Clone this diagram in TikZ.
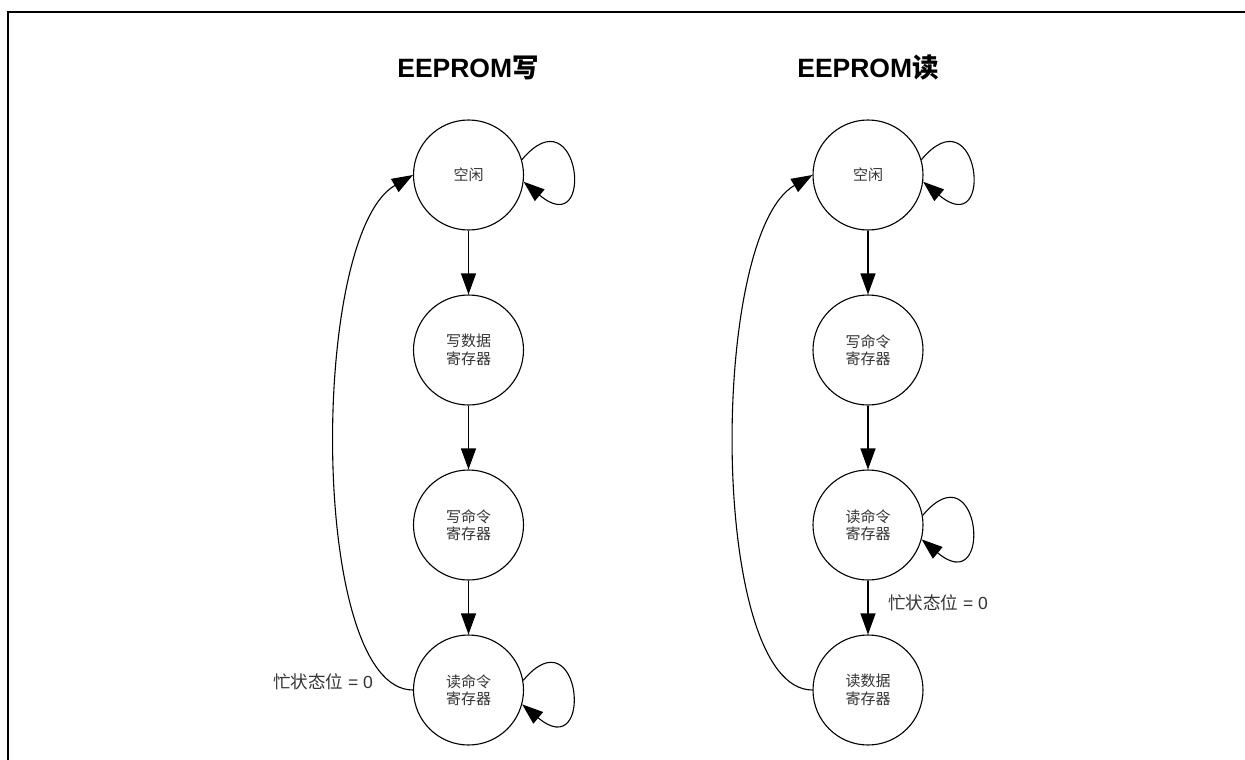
\documentclass[tikz,border=0pt]{standalone}
\usepackage{fontspec}
\setmainfont{Liberation Sans}
\newfontfamily\cjk{Noto Sans CJK SC}
\usetikzlibrary{arrows.meta}

\begin{document}
\begin{tikzpicture}[x=1pt,y=1pt,
  state/.style={circle, draw, line width=1.1pt, minimum size=110pt, inner sep=0pt,
    align=center, font=\fontsize{15}{17.5}\selectfont\cjk, text=black!80},
  arr/.style={line width=1.1pt, -{Triangle[length=21pt,width=15pt]}},
  title/.style={font=\fontsize{26.5}{30}\selectfont\bfseries},
  cond/.style={font=\fontsize{17.5}{20}\selectfont, text=black!80, anchor=west, inner sep=0pt}
]
\useasboundingbox (0,0) rectangle (1245,-760);

% frame
\draw[line width=1.6pt] (8,-760) -- (8,-12) -- (1245,-12);

% titles
\node[title] (tw) at (468,-68) {EEPROM{\cjk 写}};
\node[title] (tr) at (868,-68) {EEPROM{\cjk 读}};

% write sequence
\node[state] (w0) at (468.5,-175) {空闲};
\node[state] (w1) at (468.5,-350) {写数据\\寄存器};
\node[state] (w2) at (468.5,-525) {写命令\\寄存器};
\node[state] (w3) at (468.5,-690) {读命令\\寄存器};

% read sequence
\node[state] (r0) at (868,-175) {空闲};
\node[state] (r1) at (868,-350) {写命令\\寄存器};
\node[state] (r2) at (868,-525) {读命令\\寄存器};
\node[state] (r3) at (868,-690) {读数据\\寄存器};

% straight transitions
\draw[arr] (w0.south) -- (w1.north);
\draw[arr] (w1.south) -- (w2.north);
\draw[arr] (w2.south) -- (w3.north);
\draw[arr] (r0.south) -- (r1.north);
\draw[arr] (r1.south) -- (r2.north);
\draw[arr] (r2.south) -- (r3.north);

% return arcs
\draw[arr] (w3.west) .. controls +(-104,0) and +(-104,-60) .. (w0.west);
\draw[arr] (r3.west) .. controls +(-104,0) and +(-104,-60) .. (r0.west);

% self loops
\draw[arr] (w0.16) .. controls +(50:90) and +(-40:95) .. (w0.-7);
\draw[arr] (r0.16) .. controls +(50:90) and +(-40:95) .. (r0.-7);
\draw[arr] (w3.10) .. controls +(50:90) and +(-40:95) .. (w3.-15);
\draw[arr] (r2.10) .. controls +(50:90) and +(-40:95) .. (r2.-15);

% conditions
\node[cond] (cw) at (273,-682) {{\cjk 忙状态位} = 0};
\node[cond] (cr) at (888,-603) {{\cjk 忙状态位} = 0};
\end{tikzpicture}
\end{document}
